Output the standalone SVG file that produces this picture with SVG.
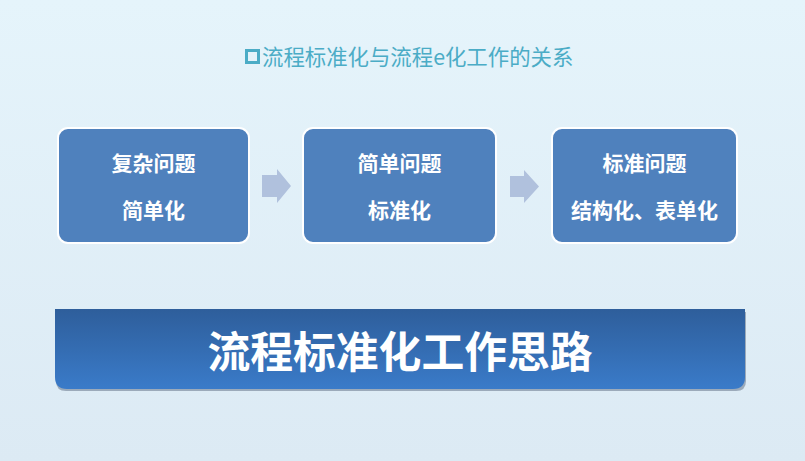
<svg xmlns="http://www.w3.org/2000/svg" width="805" height="461" viewBox="0 0 805 461">
  <defs>
    <linearGradient id="bg" x1="0" y1="0" x2="0" y2="1">
      <stop offset="0" stop-color="#E5F4FB"/>
      <stop offset="1" stop-color="#DCEAF4"/>
    </linearGradient>
    <linearGradient id="banner" x1="0" y1="0" x2="0" y2="1">
      <stop offset="0" stop-color="#2E5E9B"/>
      <stop offset="1" stop-color="#3A7BC9"/>
    </linearGradient>
    <style>
      .box { fill: #4F81BD; stroke: #FFFFFF; stroke-width: 2; }
      .bt { font-family: "Noto Sans CJK SC", "Noto Sans", sans-serif; font-weight: bold; font-size: 21px; fill: #FFFFFF; text-anchor: middle; }
      .arrow { fill: #B0C1DD; }
    </style>
  </defs>
  <rect x="0" y="0" width="805" height="461" fill="url(#bg)"/>

  <g id="title">
    <rect x="246.5" y="50.5" width="12" height="12" fill="none" stroke="#4BACC6" stroke-width="3"/>
    <text x="262" y="64.5" font-family="Noto Sans CJK SC, Noto Sans, sans-serif" font-size="21.4" fill="#4BACC6">流程标准化与流程e化工作的关系</text>
  </g>

  <g id="node1">
    <rect class="box" x="58" y="128" width="191" height="115" rx="10"/>
    <text class="bt" x="153.5" y="171">复杂问题</text>
    <text class="bt" x="153.5" y="218">简单化</text>
  </g>
  <g id="node2">
    <rect class="box" x="303" y="128" width="193" height="115" rx="10"/>
    <text class="bt" x="399.5" y="171">简单问题</text>
    <text class="bt" x="399.5" y="218">标准化</text>
  </g>
  <g id="node3">
    <rect class="box" x="552" y="128" width="185" height="115" rx="10"/>
    <text class="bt" x="644.5" y="171">标准问题</text>
    <text class="bt" x="644.5" y="218">结构化、表单化</text>
  </g>

  <g id="connectors">
    <path class="arrow" d="M262 175 H277 V169 L291 186 L277 203 V197 H262 Z"/>
    <path class="arrow" d="M510 176 H524 V170 L539 186.5 L524 203 V197 H510 Z"/>
  </g>

  <g id="banner-node">
    <path d="M56 312 H746 V381 Q746 391 736 391 H66 Q56 391 56 381 Z" fill="#6F7F93" opacity="0.6"/>
    <path d="M55 309 H745 V377 Q745 389 733 389 H67 Q55 389 55 377 Z" fill="url(#banner)"/>
    <text x="400" y="367.5" font-family="Noto Sans CJK SC, Noto Sans, sans-serif" font-weight="bold" font-size="42.8" fill="#FFFFFF" text-anchor="middle">流程标准化工作思路</text>
  </g>
</svg>
